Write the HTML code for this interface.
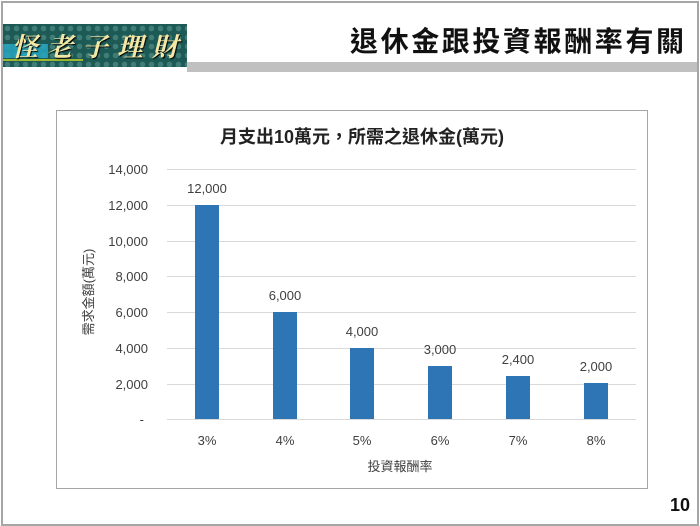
<!DOCTYPE html>
<html><head><meta charset="utf-8"><style>
body{margin:0;width:700px;height:526px;background:#fff;overflow:hidden;position:relative;font-family:"Liberation Sans","Noto Sans CJK TC",sans-serif}
.abs{position:absolute}
</style></head><body>
<div class="abs" style="left:1px;top:1px;width:694px;height:521px;border:2px solid #a6a6a6"></div>
<div class="abs" style="left:187px;top:62px;width:510px;height:10px;background:#c0c0c0"></div>
<div class="abs" style="left:3px;top:24px;width:184px;height:43px;background:#1d5a55;background-image:radial-gradient(circle,#3f7d76 2.5px,transparent 3px);background-size:9px 9px"></div>
<div class="abs" style="left:3px;top:44px;width:45px;height:14px;background:#27a9c6;opacity:.8"></div>
<div class="abs" style="left:3px;top:59px;width:80px;height:2px;background:#a0b830"></div>
<div class="abs" style="left:12px;top:27px;font:italic bold 26px 'Noto Serif CJK SC',serif;color:#f3e7a6;letter-spacing:9px;text-shadow:1px 1px 1px #000">怪老子理財</div>
<div class="abs" style="left:350px;top:20px;font:bold 28px 'Noto Sans CJK TC',sans-serif;color:#111;letter-spacing:2.6px">退休金跟投資報酬率有關</div>
<div class="abs" style="left:56px;top:110px;width:590px;height:377px;border:1.5px solid #a6a6a6"></div>
<svg class="abs" style="left:0;top:0" width="700" height="526">
<g stroke="#d9d9d9" stroke-width="1">
<line x1="167" x2="636" y1="169.5" y2="169.5"/><line x1="167" x2="636" y1="205.5" y2="205.5"/><line x1="167" x2="636" y1="241.5" y2="241.5"/><line x1="167" x2="636" y1="276.5" y2="276.5"/><line x1="167" x2="636" y1="312.5" y2="312.5"/><line x1="167" x2="636" y1="348.5" y2="348.5"/><line x1="167" x2="636" y1="384.5" y2="384.5"/><line x1="167" x2="636" y1="419.5" y2="419.5"/>
</g>
<g fill="#2e75b6">
<rect x="195" y="205" width="24" height="214"/><rect x="273" y="312" width="24" height="107"/><rect x="350" y="348" width="24" height="71"/><rect x="428" y="366" width="24" height="53"/><rect x="506" y="376" width="24" height="43"/><rect x="584" y="383" width="24" height="36"/>
</g>
<g font-family="Liberation Sans,sans-serif" font-size="13" fill="#404040" text-anchor="end">
<text x="148" y="174">14,000</text><text x="148" y="210">12,000</text><text x="148" y="246">10,000</text><text x="148" y="281">8,000</text><text x="148" y="317">6,000</text><text x="148" y="353">4,000</text><text x="148" y="389">2,000</text><text x="144" y="424">-</text>
</g>
<g font-family="Liberation Sans,sans-serif" font-size="13" fill="#404040" text-anchor="middle">
<text x="207" y="193">12,000</text><text x="285" y="300">6,000</text><text x="362" y="336">4,000</text><text x="440" y="354">3,000</text><text x="518" y="364">2,400</text><text x="596" y="371">2,000</text>
<text x="207" y="445">3%</text><text x="285" y="445">4%</text><text x="362" y="445">5%</text><text x="440" y="445">6%</text><text x="518" y="445">7%</text><text x="596" y="445">8%</text>
</g>
<text x="400" y="471" text-anchor="middle" font-family="Liberation Sans,'Noto Sans CJK TC',sans-serif" font-size="13" fill="#404040">投資報酬率</text>
<text transform="translate(93,292) rotate(-90)" text-anchor="middle" font-family="Liberation Sans,'Noto Sans CJK TC',sans-serif" font-size="13" fill="#404040">需求金額(萬元)</text>
<text x="362" y="143" text-anchor="middle" font-family="Liberation Sans,'Noto Sans CJK TC',sans-serif" font-size="18" font-weight="bold" fill="#222">月支出10萬元，所需之退休金(萬元)</text>
<text x="690" y="511" text-anchor="end" font-family="Liberation Sans,sans-serif" font-size="18" font-weight="bold" fill="#111">10</text>
</svg>
</body></html>
